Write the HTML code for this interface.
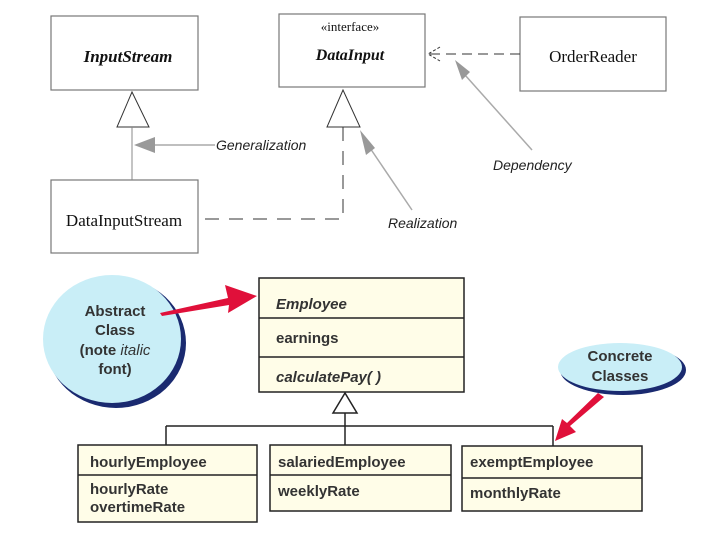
<!DOCTYPE html>
<html><head><meta charset="utf-8"><style>
html,body{margin:0;padding:0;background:#fff;width:720px;height:540px;overflow:hidden}
svg{display:block}
.serif{font-family:"Liberation Serif",serif;fill:#111}
.lbl{font-family:"Liberation Sans",sans-serif;font-style:italic;font-size:14px;fill:#222}
.b{font-family:"Liberation Sans",sans-serif;font-weight:bold;font-size:15px;fill:#333}
</style></head><body>
<svg width="720" height="540" viewBox="0 0 720 540">
<!-- top boxes -->
<g fill="none" stroke="#777" stroke-width="1.2">
<rect x="51" y="16" width="147" height="74"/>
<rect x="279" y="14" width="146" height="73"/>
<rect x="520" y="17" width="146" height="74"/>
<rect x="51" y="180" width="147" height="73"/>
</g>
<text x="128" y="62" class="serif" font-size="17" font-style="italic" font-weight="bold" text-anchor="middle">InputStream</text>
<text x="350" y="31" class="serif" font-size="13" text-anchor="middle">«interface»</text>
<text x="350" y="60" class="serif" font-size="16" font-style="italic" font-weight="bold" text-anchor="middle">DataInput</text>
<text x="593" y="62" class="serif" font-size="17" text-anchor="middle">OrderReader</text>
<text x="124" y="226" class="serif" font-size="17" text-anchor="middle">DataInputStream</text>
<!-- generalization -->
<polygon points="132,92 117,127 149,127" fill="#fff" stroke="#333"/>
<line x1="132" y1="127" x2="132" y2="180" stroke="#888"/>
<!-- realization -->
<polygon points="343,90 327,127 360,127" fill="#fff" stroke="#333"/>
<polyline points="343,127 343,219 198,219" fill="none" stroke="#333" stroke-dasharray="14,10"/>
<!-- dependency -->
<line x1="520" y1="54" x2="428" y2="54" stroke="#333" stroke-dasharray="10,6"/>
<polyline points="440,47 428,54 440,61" fill="none" stroke="#333" stroke-dasharray="3,2"/>
<!-- gray pointers -->
<line x1="152" y1="145" x2="215" y2="145" stroke="#aaa" stroke-width="1.5"/>
<polygon points="134,145 155,137 155,153" fill="#999"/>
<text x="216" y="150" class="lbl">Generalization</text>
<line x1="370" y1="148" x2="412" y2="210" stroke="#aaa" stroke-width="1.5"/>
<polygon points="360,130 375,148 366,155" fill="#999"/>
<text x="388" y="228" class="lbl">Realization</text>
<line x1="465" y1="75" x2="532" y2="150" stroke="#aaa" stroke-width="1.5"/>
<polygon points="455,60 470,72 462,80" fill="#999"/>
<text x="493" y="170" class="lbl">Dependency</text>
<!-- bottom -->
<ellipse cx="116" cy="343" rx="70" ry="65" fill="#1a2a70"/>
<ellipse cx="112" cy="339" rx="69" ry="64" fill="#c9eef7"/>
<text x="115" y="316" class="b" text-anchor="middle">Abstract</text>
<text x="115" y="335" class="b" text-anchor="middle">Class</text>
<text x="115" y="355" class="b" text-anchor="middle">(note <tspan font-style="italic" font-weight="normal">italic</tspan></text>
<text x="115" y="374" class="b" text-anchor="middle">font)</text>
<ellipse cx="623" cy="370" rx="63" ry="25" fill="#1a2a70"/>
<ellipse cx="620" cy="367" rx="62" ry="24" fill="#c9eef7"/>
<text x="620" y="361" class="b" text-anchor="middle">Concrete</text>
<text x="620" y="381" class="b" text-anchor="middle">Classes</text>
<polygon points="160,313 228,298 225,285 257,296 228,313 229,305 162,316" fill="#e0103a"/>
<polygon points="598,393 604,397 570,426 576,432 555,441 562,419 567,423" fill="#e0103a"/>
<g fill="#fffde8" stroke="#222" stroke-width="1.5">
<rect x="259" y="278" width="205" height="114"/>
<rect x="78" y="445" width="179" height="77"/>
<rect x="270" y="445" width="181" height="66"/>
<rect x="462" y="446" width="180" height="65"/>
</g>
<g stroke="#222" stroke-width="1.5">
<line x1="259" y1="318" x2="464" y2="318"/>
<line x1="259" y1="357" x2="464" y2="357"/>
<line x1="78" y1="475" x2="257" y2="475"/>
<line x1="270" y1="475" x2="451" y2="475"/>
<line x1="462" y1="478" x2="642" y2="478"/>
<line x1="345" y1="413" x2="345" y2="445"/>
<line x1="166" y1="426" x2="553" y2="426"/>
<line x1="166" y1="426" x2="166" y2="445"/>
<line x1="553" y1="426" x2="553" y2="446"/>
</g>
<polygon points="345,393 333,413 357,413" fill="#fff" stroke="#222" stroke-width="1.5"/>
<text x="276" y="309" class="b" font-style="italic" font-weight="normal">Employee</text>
<text x="276" y="343" class="b">earnings</text>
<text x="276" y="382" class="b" font-style="italic" font-weight="normal">calculatePay( )</text>
<text x="90" y="467" class="b">hourlyEmployee</text>
<text x="90" y="494" class="b">hourlyRate</text>
<text x="90" y="512" class="b">overtimeRate</text>
<text x="278" y="467" class="b">salariedEmployee</text>
<text x="278" y="496" class="b">weeklyRate</text>
<text x="470" y="467" class="b">exemptEmployee</text>
<text x="470" y="498" class="b">monthlyRate</text>
</svg>
</body></html>
